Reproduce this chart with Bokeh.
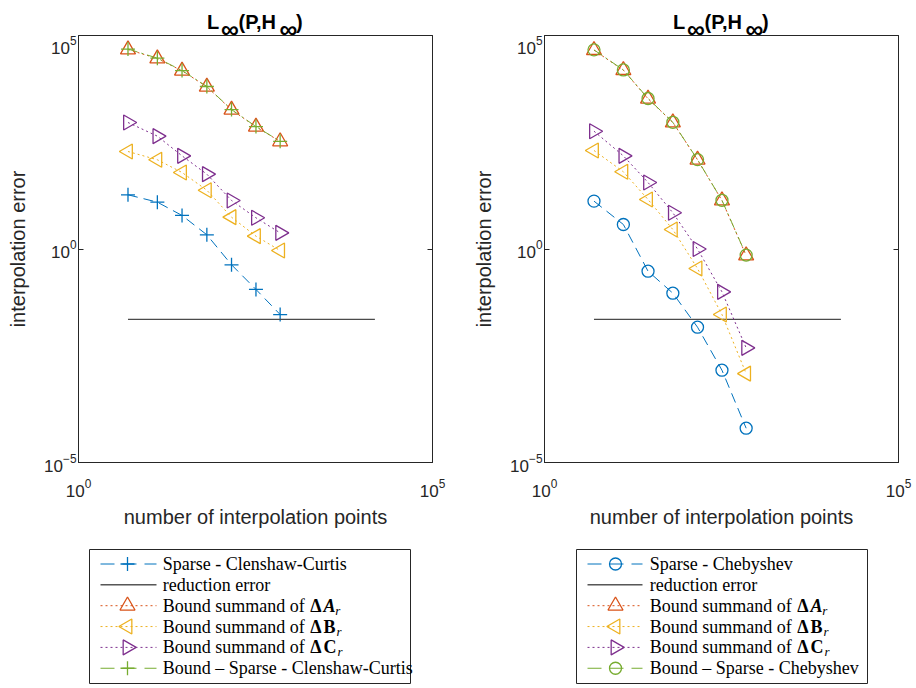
import math
from bokeh.plotting import figure
from bokeh.models import Range1d, FixedTicker, LogAxis, Label, ColumnDataSource
from bokeh.layouts import row, column
from bokeh.embed import file_html
from bokeh.resources import INLINE

# ---------------- data ----------------
n_points = [5, 13, 29, 65, 145, 321, 705]
reduction_x = [5, 15361]
reduction_err = [0.0224, 0.0224]

cc_sparse = [18.6, 12.5, 6.1, 2.15, 0.427, 0.113, 0.0292]
cc_bound_A = [47000, 28900, 14900, 6300, 1820, 728, 330]
cc_bound_B = [192, 123, 62, 23.8, 5.56, 2.0, 0.92]
cc_bound_C = [918, 439, 152, 56.5, 13.7, 5.38, 2.39]
cc_bound_total = [48200, 29500, 15100, 6390, 1840, 737, 333]

ch_sparse = [13.2, 3.75, 0.302, 0.0923, 0.01476, 0.00145, 6.35e-5]
ch_bound_A = [45300, 15400, 3300, 918, 123, 13.7, 0.705]
ch_bound_B = [203, 64.3, 14.4, 2.86, 0.349, 0.0292, 0.00121]
ch_bound_C = [574, 152, 36.1, 7.05, 1.0, 0.0993, 0.00484]
ch_bound_total = [46100, 15600, 3350, 927, 124, 13.8, 0.72]

x_ticks = [1, 1e5]
y_ticks = [1e-5, 1, 1e5]

BLUE = "#0072BD"
ORANGE = "#D95319"
YELLOW = "#EDB120"
PURPLE = "#7E2F8E"
GREEN = "#77AC30"
AXC = "#262626"

SANS = "Liberation Sans"
SERIF = "Liberation Serif"

W = 458
TH, TOV, PH, LH = 47, 12, 505, 148   # title strip (overlapping plot by TOV), plot, legend
FB = 78


def blank(height, fl, fr, transparent=False):
    f = figure(width=W, height=height, x_range=Range1d(fl, fr), y_range=Range1d(height, 0),
               output_backend="svg", toolbar_location=None, min_border=0,
               min_border_left=fl, min_border_right=W - fr,
               x_axis_location=None, y_axis_location=None)
    f.outline_line_color = None
    f.xgrid.visible = False
    f.ygrid.visible = False
    f.background_fill_color = None if transparent else "white"
    f.border_fill_color = None if transparent else "white"
    return f


def make_title(fl, fr):
    t = blank(TH, fl, fr, transparent=True)
    t.margin = (0, 0, -TOV, 0)
    x0 = (fl + fr) / 2 - 48.5
    parts = [("L", 0, 21, "20px"), ("\u221e", 14, 28, "25px"), ("(P,H", 31.5, 21, "20px"),
             ("\u221e", 72.5, 28, "25px"), (")", 89, 21, "20px")]
    for txt, off, by, fs in parts:
        t.add_layout(Label(x=x0 + off, y=by, text=txt, text_font=SANS,
                           text_font_size=fs, text_font_style="bold", text_color="black",
                           text_baseline="alphabetic", text_align="left"))
    return t


def make_panel(sparse, bA, bB, bC, btot, sparse_marker, fl, fr):
    p = figure(width=W, height=PH, x_axis_type="log", y_axis_type="log",
               x_range=Range1d(1, 1e5), y_range=Range1d(1e-5, 1e5),
               output_backend="svg", toolbar_location=None,
               min_border_left=fl, min_border_right=W - fr,
               min_border_top=0, min_border_bottom=FB)
    p.outline_line_color = AXC
    p.xgrid.visible = False
    p.ygrid.visible = False
    p.background_fill_color = None
    p.border_fill_color = None

    for ax in (p.xaxis[0], p.yaxis[0]):
        ax.major_tick_in = 5
        ax.major_tick_out = 0
        ax.minor_tick_line_color = None
        ax.axis_line_color = AXC
        ax.major_tick_line_color = AXC
        ax.major_label_text_font = SANS
        ax.major_label_text_font_size = "17px"
        ax.major_label_text_color = AXC
        ax.axis_label_text_font = SANS
        ax.axis_label_text_font_size = "20px"
        ax.axis_label_text_font_style = "normal"
        ax.axis_label_text_color = AXC
    p.xaxis.ticker = FixedTicker(ticks=x_ticks)
    p.yaxis.ticker = FixedTicker(ticks=y_ticks)
    p.xaxis.axis_label = "number of interpolation points"
    p.yaxis.axis_label = "interpolation error"
    p.xaxis.major_label_standoff = 16
    p.xaxis.axis_label_standoff = 6
    p.yaxis.major_label_standoff = 2
    p.yaxis.axis_label_standoff = 12

    ra = LogAxis(ticker=FixedTicker(ticks=y_ticks), major_label_text_font_size="1px",
                 major_label_text_alpha=0, major_label_standoff=0,
                 major_tick_in=5, major_tick_out=0,
                 minor_tick_line_color=None, axis_line_color=AXC, major_tick_line_color=AXC)
    p.add_layout(ra, "right")

    src = ColumnDataSource(dict(x=n_points, s=sparse, a=bA, b=bB, c=bC, t=btot))
    rsrc = ColumnDataSource(dict(x=reduction_x, y=reduction_err))

    # sparse
    p.line("x", "s", source=src, color=BLUE, line_width=1, line_dash="10 6")
    if sparse_marker == "cross":
        p.scatter("x", "s", source=src, marker="cross", size=14, line_color=BLUE, line_width=1.3)
    else:
        p.scatter("x", "s", source=src, marker="circle", size=12, line_color=BLUE,
                  fill_color=None, line_width=1.3)
    # reduction error
    p.line("x", "y", source=rsrc, color="#4a4a4a", line_width=1.2)
    # bounds
    p.line("x", "a", source=src, color=ORANGE, line_width=1, line_dash="2 3")
    p.scatter("x", "a", source=src, marker="triangle", size=15, line_color=ORANGE,
              fill_color=None, line_width=1.3)
    p.line("x", "b", source=src, color=YELLOW, line_width=1, line_dash="2 3")
    p.scatter("x", "b", source=src, marker="triangle", size=15, angle=math.pi / 2,
              line_color=YELLOW, fill_color=None, line_width=1.3)
    p.line("x", "c", source=src, color=PURPLE, line_width=1, line_dash="2 3")
    p.scatter("x", "c", source=src, marker="triangle", size=15, angle=-math.pi / 2,
              line_color=PURPLE, fill_color=None, line_width=1.3)
    # total bound
    p.line("x", "t", source=src, color=GREEN, line_width=1, line_dash="10 4 2 4")
    if sparse_marker == "cross":
        p.scatter("x", "t", source=src, marker="cross", size=14, line_color=GREEN, line_width=1.3)
    else:
        p.scatter("x", "t", source=src, marker="circle", size=12, line_color=GREEN,
                  fill_color=None, line_width=1.3)
    return p


def make_legend(fl, fr, box_l, box_r, line_l, line_r, mk_x, text_x, first_label, last_label, marker):
    L = blank(LH, fl, fr)
    L.quad(left=[box_l], right=[box_r], top=[9], bottom=[143], fill_color="white",
           line_color=AXC, line_width=1)
    rows_y = [23.5 + 20.85 * i for i in range(6)]
    mk = "cross" if marker == "cross" else "circle"
    specs = [
        (BLUE, "14 8", mk, 0.0, first_label, None),
        ("black", "solid", None, 0.0, "reduction error", None),
        (ORANGE, "2 3", "triangle", 0.0, "Bound summand of ", "A"),
        (YELLOW, "2 3", "triangle", math.pi / 2, "Bound summand of ", "B"),
        (PURPLE, "2 3", "triangle", -math.pi / 2, "Bound summand of ", "C"),
        (GREEN, "14 8", mk, 0.0, last_label, None),
    ]
    for (col, dash, m, ang, lab, sym), y in zip(specs, rows_y):
        L.line([line_l, line_r], [y, y], color=col, line_width=1, line_dash=dash)
        if m is not None:
            sz = 15 if m == "triangle" else (14 if m == "cross" else 12)
            L.scatter([mk_x], [y], marker=m, size=sz, angle=ang, line_color=col,
                      fill_color=None, line_width=1.3)
        L.add_layout(Label(x=text_x, y=y, text=lab, text_font=SERIF, text_font_size="18px",
                           text_color="black", text_baseline="middle", text_align="left"))
        if sym is not None:
            xd = text_x + 147.5
            L.add_layout(Label(x=xd, y=y, text="\u0394", text_font=SERIF, text_font_size="18px",
                               text_font_style="bold", text_color="black",
                               text_baseline="middle", text_align="left"))
            style = "bold italic" if sym == "A" else "bold"
            L.add_layout(Label(x=xd + 13.3, y=y, text=sym, text_font=SERIF,
                               text_font_size="18px", text_font_style=style,
                               text_color="black", text_baseline="middle", text_align="left"))
            roff = {"A": 11.7, "B": 13.0, "C": 14.0}[sym]
            L.add_layout(Label(x=xd + 13.3 + roff, y=y + 4.5, text="r", text_font=SERIF,
                               text_font_size="13px", text_font_style="italic",
                               text_color="black", text_baseline="middle", text_align="left"))
    return L


T1 = make_title(78, 432)
T2 = make_title(86, 440)
p1 = make_panel(cc_sparse, cc_bound_A, cc_bound_B, cc_bound_C, cc_bound_total, "cross", 78, 432)
p2 = make_panel(ch_sparse, ch_bound_A, ch_bound_B, ch_bound_C, ch_bound_total, "circle", 86, 440)

L1 = make_legend(78, 432, 89, 410, 100, 156, 127, 162.3,
                 "Sparse - Clenshaw-Curtis", "Bound \u2013 Sparse - Clenshaw-Curtis", "cross")
L2 = make_legend(86, 440, 118, 409, 129, 184, 157, 191.3,
                 "Sparse - Chebyshev", "Bound \u2013 Sparse - Chebyshev", "circle")

layout = row(column(T1, p1, L1, spacing=0), column(T2, p2, L2, spacing=0), spacing=0)

open("out.html", "w").write(file_html(layout, INLINE))
